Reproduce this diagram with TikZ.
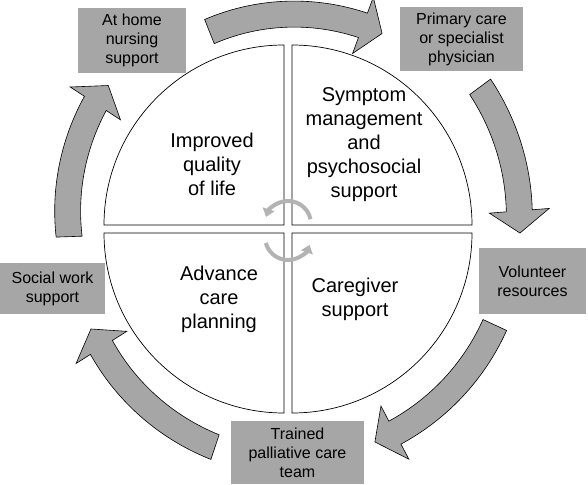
\documentclass[tikz,border=0pt]{standalone}
\usepackage{fontspec}
\setmainfont{Liberation Sans}
\usetikzlibrary{arrows.meta}

\definecolor{boxgray}{HTML}{A6A6A6}
\definecolor{spingray}{HTML}{B3B3B3}

% curved block arrow round the centre (288,229)
% #1 tail angle, #2 tail radius, #3 head angle, #4 head radius
\newcommand{\flowarrow}[4]{%
  \draw[flow]
    plot[domain=#1:#3, samples=40] ({288+(#2+(#4-#2)*(\x-(#1))/((#3)-(#1))+13)*cos(\x)}, {229-(#2+(#4-#2)*(\x-(#1))/((#3)-(#1))+13)*sin(\x)})
    -- ({288+(#4+30)*cos(#3)}, {229-(#4+30)*sin(#3)})
    -- ({288+#4*cos(#3-5.5)}, {229-#4*sin(#3-5.5)})
    -- ({288+(#4-30)*cos(#3)}, {229-(#4-30)*sin(#3)})
    -- plot[domain=#3:#1, samples=40] ({288+(#2+(#4-#2)*(\x-(#1))/((#3)-(#1))-13)*cos(\x)}, {229-(#2+(#4-#2)*(\x-(#1))/((#3)-(#1))-13)*sin(\x)})
    -- cycle;
}

\begin{document}
\begin{tikzpicture}[x=1pt, y=-1pt,
    quad/.style={draw, fill=white, line width=0.7pt},
    quadtext/.style={align=center, font=\fontsize{20}{24}\selectfont},
    box/.style={fill=boxgray, inner sep=0pt, align=center, font=\fontsize{16}{19}\selectfont},
    flow/.style={fill=boxgray, draw=black, line width=0.6pt, line join=miter},
    spin/.style={spingray, line width=4pt, -{Triangle[length=8pt, width=12pt]}}
  ]
  \useasboundingbox (0,0) rectangle (588,484);

  % four quarters
  \draw[quad] (284,225) -- (104,225) arc[start angle=180, end angle=270, radius=180] -- cycle;
  \draw[quad] (292,225) -- (292,45) arc[start angle=270, end angle=360, radius=180] -- cycle;
  \draw[quad] (292,233) -- (472,233) arc[start angle=0, end angle=90, radius=180] -- cycle;
  \draw[quad] (284,233) -- (284,413) arc[start angle=90, end angle=180, radius=180] -- cycle;

  \node[quadtext] (quality) at (212,164) {Improved\\quality\\of life};
  \node[quadtext] (symptom) at (364,145) {Symptom\\management\\and\\psychosocial\\support};
  \node[quadtext] (advance) at (219,299) {Advance\\care\\planning};
  \node[quadtext] (caregiver) at (355,299) {Caregiver\\support};

  % small turning arrows in the middle
  \draw[spin] ([shift={(-12:23)}]288,224) arc[start angle=-12, end angle=-162, radius=23];
  \draw[spin] ([shift={(165:23)}]288,237) arc[start angle=165, end angle=20, radius=23];

  % services round the circle
  \node[box, minimum width=108, minimum height=65] (home) at (132,40.5) {At home\\nursing\\support};
  \node[box, minimum width=123, minimum height=64] (physician) at (461.5,39) {Primary care\\or specialist\\physician};
  \node[box, minimum width=107, minimum height=66] (volunteer) at (532.5,281) {Volunteer\\resources};
  \node[box, minimum width=133, minimum height=63] (team) at (297.5,452.5) {Trained\\palliative care\\team};
  \node[box, minimum width=105, minimum height=51] (social) at (52.5,288.5) {Social work\\support};

  \flowarrow{111.7}{212.5}{69.8}{217}
  \flowarrow{36.5}{239}{4.5}{232}
  \flowarrow{-24.9}{228}{-62.3}{230}
  \flowarrow{-108.5}{230}{-147.6}{221}
  \flowarrow{-178}{219}{-213.1}{230}
\end{tikzpicture}
\end{document}
